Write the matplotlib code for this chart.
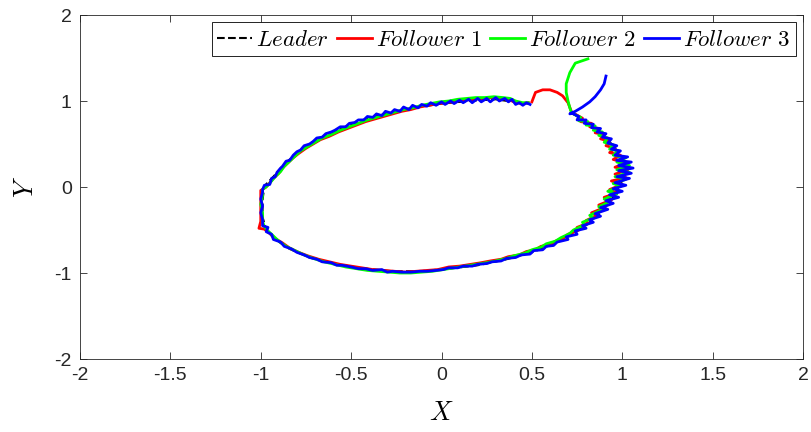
import matplotlib
matplotlib.use("Agg")
from matplotlib import pyplot as plt

plt.rcParams["mathtext.fontset"] = "cm"
plt.rcParams["font.family"] = ["Liberation Sans", "DejaVu Sans"]

# reference trajectory (dashed, drawn underneath)
leader_x = [0.72, 0.80, 0.87, 0.92, 0.96, 1.00, 1.02, 1.01, 0.98, 0.94, 0.88, 0.81,
            0.72, 0.62, 0.50, 0.36, 0.20, 0.04, -0.12, -0.27, -0.42, -0.58, -0.73,
            -0.84, -0.92, -0.97, -0.99, -0.99, -0.98, -0.93, -0.88, -0.80, -0.70,
            -0.58, -0.45, -0.30, -0.15, 0.00, 0.15, 0.30, 0.40, 0.48]
leader_y = [0.86, 0.76, 0.66, 0.55, 0.45, 0.33, 0.22, 0.11, 0.00, -0.15, -0.30, -0.43,
            -0.55, -0.66, -0.76, -0.84, -0.91, -0.95, -0.98, -0.98, -0.95, -0.90, -0.82,
            -0.72, -0.61, -0.50, -0.35, -0.15, 0.01, 0.12, 0.24, 0.40, 0.54, 0.66, 0.77,
            0.86, 0.92, 0.97, 1.00, 1.02, 0.99, 0.97]

# follower 1: starts near the top, bumps over and joins the loop
f1_x = [0.50, 0.52, 0.56, 0.60, 0.64, 0.67, 0.70, 0.72,
        0.78, 0.77, 0.83, 0.82, 0.87, 0.85, 0.90, 0.88, 0.93, 0.91, 0.96, 0.93, 0.99,
        0.95, 1.02, 0.96, 1.03, 0.96, 1.02, 0.94, 1.00, 0.93, 0.97, 0.90, 0.94, 0.87,
        0.90, 0.83, 0.86, 0.80, 0.81, 0.75, 0.76, 0.70, 0.68, 0.63, 0.60, 0.55, 0.52,
        0.47, 0.43, 0.37, 0.33, 0.27, 0.22, 0.16, 0.10, 0.04, -0.02, -0.08, -0.14,
        -0.20, -0.26, -0.32, -0.38, -0.44, -0.50, -0.56, -0.62, -0.68, -0.74, -0.79,
        -0.84, -0.88, -0.92, -0.95, -0.98, -1.01, -1.00, -1.00, -1.00, -1.00, -1.00,
        -0.97, -0.95, -0.93, -0.90, -0.88, -0.85, -0.82, -0.79, -0.75, -0.71, -0.67,
        -0.62, -0.57, -0.52, -0.47, -0.42, -0.37, -0.32, -0.27, -0.22, -0.17, -0.12,
        -0.07, -0.02, 0.03, 0.08, 0.13, 0.18, 0.23, 0.28, 0.33, 0.37, 0.40, 0.44, 0.48]
f1_y = [0.99, 1.10, 1.13, 1.13, 1.10, 1.06, 0.98, 0.87,
        0.80, 0.76, 0.74, 0.70, 0.68, 0.63, 0.61, 0.56, 0.53, 0.48, 0.45, 0.40, 0.37,
        0.32, 0.28, 0.23, 0.20, 0.15, 0.11, 0.07, 0.03, -0.03, -0.07, -0.12, -0.15,
        -0.21, -0.24, -0.30, -0.33, -0.39, -0.42, -0.47, -0.50, -0.55, -0.59, -0.63,
        -0.67, -0.69, -0.73, -0.75, -0.79, -0.81, -0.84, -0.86, -0.88, -0.90, -0.92,
        -0.93, -0.96, -0.97, -0.98, -0.99, -0.98, -0.97, -0.96, -0.94, -0.92, -0.90,
        -0.87, -0.84, -0.80, -0.76, -0.71, -0.65, -0.60, -0.54, -0.49, -0.48, -0.40,
        -0.30, -0.20, -0.10, -0.04, 0.00, 0.05, 0.10, 0.16, 0.22, 0.28, 0.34, 0.39,
        0.45, 0.50, 0.55, 0.59, 0.64, 0.68, 0.72, 0.76, 0.79, 0.82, 0.85, 0.88, 0.90,
        0.93, 0.95, 0.97, 0.98, 1.00, 1.01, 1.02, 1.03, 1.04, 1.03, 1.02, 0.99, 0.97,
        0.98]

# follower 2: comes down from the upper right
f2_x = [0.81, 0.74, 0.71, 0.69, 0.69, 0.70, 0.71, 0.72,
        0.77, 0.76, 0.81, 0.80, 0.85, 0.84, 0.89, 0.87, 0.92, 0.90, 0.95, 0.93, 0.98,
        0.95, 1.02, 0.97, 1.04, 0.97, 1.04, 0.96, 1.02, 0.95, 0.99, 0.92, 0.97, 0.90,
        0.93, 0.87, 0.89, 0.82, 0.84, 0.78, 0.79, 0.73, 0.71, 0.66, 0.63, 0.58, 0.55,
        0.50, 0.46, 0.40, 0.36, 0.30, 0.25, 0.19, 0.13, 0.07, 0.01, -0.05, -0.11,
        -0.17, -0.23, -0.29, -0.35, -0.41, -0.47, -0.53, -0.59, -0.65, -0.71, -0.76,
        -0.81, -0.86, -0.90, -0.93, -0.96, -0.98, -0.99, -0.99, -1.00, -0.99, -0.99,
        -0.96, -0.94, -0.92, -0.89, -0.87, -0.84, -0.81, -0.78, -0.74, -0.70, -0.66,
        -0.61, -0.56, -0.51, -0.46, -0.41, -0.36, -0.31, -0.26, -0.21, -0.16, -0.11,
        -0.06, -0.01, 0.04, 0.09, 0.14, 0.19, 0.24, 0.29, 0.34, 0.38, 0.41, 0.45, 0.48]
f2_y = [1.49, 1.44, 1.33, 1.20, 1.10, 1.00, 0.92, 0.86,
        0.81, 0.77, 0.76, 0.72, 0.71, 0.66, 0.64, 0.60, 0.57, 0.52, 0.49, 0.44, 0.42,
        0.37, 0.34, 0.29, 0.25, 0.20, 0.17, 0.12, 0.09, 0.04, 0.01, -0.05, -0.08,
        -0.14, -0.17, -0.23, -0.26, -0.33, -0.36, -0.41, -0.44, -0.50, -0.54, -0.59,
        -0.63, -0.66, -0.70, -0.73, -0.77, -0.80, -0.83, -0.86, -0.88, -0.90, -0.92,
        -0.94, -0.96, -0.98, -0.99, -1.00, -1.00, -0.99, -0.98, -0.97, -0.95, -0.93,
        -0.90, -0.87, -0.83, -0.79, -0.74, -0.69, -0.63, -0.57, -0.51, -0.46, -0.40,
        -0.30, -0.20, -0.10, -0.03, 0.02, 0.07, 0.12, 0.18, 0.24, 0.30, 0.36, 0.42,
        0.47, 0.52, 0.57, 0.61, 0.66, 0.70, 0.74, 0.78, 0.81, 0.84, 0.87, 0.90, 0.92,
        0.95, 0.97, 0.99, 1.00, 1.02, 1.03, 1.04, 1.04, 1.05, 1.04, 1.03, 1.00, 0.98,
        0.98]

# follower 3: comes in from the right and settles on the loop (x, y pairs)
f3_pts = [
    (0.91, 1.29), (0.90, 1.20), (0.88, 1.13), (0.85, 1.05), (0.82, 0.99), (0.78, 0.93),
    (0.74, 0.88), (0.71, 0.85),
    # right side, heading down
    (0.72, 0.86), (0.76, 0.82), (0.75, 0.78), (0.80, 0.78), (0.79, 0.74), (0.84, 0.73),
    (0.83, 0.69), (0.88, 0.68), (0.86, 0.64), (0.91, 0.62), (0.89, 0.58), (0.94, 0.56),
    (0.92, 0.51), (0.97, 0.48), (0.94, 0.44), (0.99, 0.42), (0.96, 0.37), (1.03, 0.35),
    (0.97, 0.31), (1.05, 0.29), (0.98, 0.25), (1.06, 0.22), (0.98, 0.19), (1.05, 0.16),
    (0.97, 0.12), (1.04, 0.10), (0.96, 0.05), (1.02, 0.02), (0.95, -0.02), (1.00, -0.05),
    (0.93, -0.09), (0.98, -0.12), (0.91, -0.16), (0.95, -0.19), (0.88, -0.24), (0.92, -0.26),
    (0.85, -0.31), (0.88, -0.34), (0.82, -0.38), (0.84, -0.41), (0.78, -0.45), (0.80, -0.48),
    (0.74, -0.51), (0.75, -0.55), (0.69, -0.58), (0.70, -0.61), (0.64, -0.64), (0.62, -0.68),
    (0.58, -0.69), (0.56, -0.73), (0.51, -0.74), (0.49, -0.78), (0.44, -0.79), (0.41, -0.82),
    (0.36, -0.83), (0.33, -0.86), (0.28, -0.87), (0.25, -0.89), (0.20, -0.90), (0.17, -0.92),
    (0.12, -0.92), (0.09, -0.94), (0.04, -0.94), (0.01, -0.96),
    # bottom and left side
    (-0.03, -0.97), (-0.08, -0.98), (-0.12, -0.98), (-0.17, -0.99), (-0.22, -0.99),
    (-0.27, -0.98), (-0.30, -0.99), (-0.33, -0.96), (-0.38, -0.97), (-0.42, -0.95),
    (-0.46, -0.95), (-0.50, -0.93), (-0.55, -0.91), (-0.58, -0.91), (-0.61, -0.88),
    (-0.66, -0.87), (-0.69, -0.84), (-0.73, -0.82), (-0.76, -0.79), (-0.80, -0.76),
    (-0.83, -0.72), (-0.87, -0.69), (-0.89, -0.64), (-0.93, -0.61), (-0.94, -0.55),
    (-0.97, -0.52), (-0.96, -0.47), (-0.99, -0.45), (-0.99, -0.38), (-1.00, -0.30),
    (-0.99, -0.22), (-1.00, -0.14), (-0.99, -0.06), (-0.99, -0.03),
    # top arc, heading right
    (-0.98, 0.02), (-0.95, 0.03), (-0.94, 0.10), (-0.92, 0.12), (-0.91, 0.17), (-0.89, 0.22),
    (-0.88, 0.24), (-0.86, 0.30), (-0.84, 0.31), (-0.82, 0.37), (-0.80, 0.41), (-0.78, 0.43),
    (-0.76, 0.48), (-0.73, 0.50), (-0.71, 0.53), (-0.69, 0.57), (-0.66, 0.58), (-0.64, 0.62),
    (-0.61, 0.64), (-0.59, 0.66), (-0.56, 0.70), (-0.53, 0.70), (-0.51, 0.74), (-0.48, 0.75),
    (-0.46, 0.78), (-0.43, 0.78), (-0.41, 0.82), (-0.38, 0.81), (-0.36, 0.85), (-0.33, 0.83),
    (-0.31, 0.88), (-0.28, 0.86), (-0.26, 0.90), (-0.23, 0.88), (-0.21, 0.93), (-0.18, 0.90),
    (-0.16, 0.95), (-0.13, 0.92), (-0.11, 0.96), (-0.08, 0.94), (-0.06, 0.98), (-0.03, 0.95),
    (0.00, 0.99), (0.02, 0.96), (0.05, 1.00), (0.07, 0.97), (0.10, 1.01), (0.12, 0.98),
    (0.15, 1.02), (0.17, 0.98), (0.20, 1.03), (0.22, 0.99), (0.25, 1.03), (0.27, 0.99),
    (0.30, 1.04), (0.32, 1.00), (0.35, 1.03), (0.37, 0.99), (0.39, 1.02), (0.41, 0.96),
    (0.43, 0.98), (0.45, 0.95), (0.47, 0.98), (0.49, 0.96),
]
f3_x = [p[0] for p in f3_pts]
f3_y = [p[1] for p in f3_pts]

labels = [r"$Leader$", r"$Follower\ 1$", r"$Follower\ 2$", r"$Follower\ 3$"]

fig = plt.figure(figsize=(8.11, 4.32), dpi=100)
ax = fig.add_axes([80 / 811, 73 / 432, 723 / 811, 344 / 432])

ax.plot(leader_x, leader_y, "k--", lw=1.5, label=labels[0])
ax.plot(f1_x, f1_y, color="#ff0000", lw=2.0, label=labels[1])
ax.plot(f2_x, f2_y, color="#00ff00", lw=2.0, label=labels[2])
ax.plot(f3_x, f3_y, color="#0000ff", lw=2.0, label=labels[3])

ax.set_xlim(-2, 2)
ax.set_ylim(-2, 2)
ax.set_xticks([-2, -1.5, -1, -0.5, 0, 0.5, 1, 1.5, 2])
ax.set_xticklabels(["-2", "-1.5", "-1", "-0.5", "0", "0.5", "1", "1.5", "2"])
ax.set_yticks([-2, -1, 0, 1, 2])
ax.set_yticklabels(["-2", "-1", "0", "1", "2"])
ax.tick_params(direction="in", top=True, right=True, length=5, width=0.6,
               color="#262626", labelcolor="#262626", labelsize=14, pad=6)
for s in ax.spines.values():
    s.set_linewidth(0.6)
    s.set_color("#262626")

ax.set_xlabel(r"$X$", fontsize=19, labelpad=12)
ax.set_ylabel(r"$Y$", fontsize=19, labelpad=12)

leg = ax.legend(loc="upper right", ncol=4, fontsize=16.5, handlelength=1.5,
                handletextpad=0.2, columnspacing=0.35, borderpad=0.25,
                borderaxespad=0.3, fancybox=False, framealpha=1)
leg.get_frame().set_edgecolor("black")
leg.get_frame().set_linewidth(0.6)

plt.savefig("out.png")
